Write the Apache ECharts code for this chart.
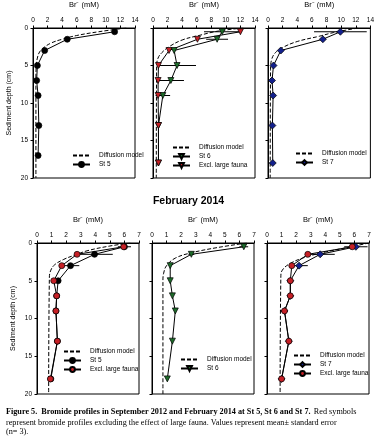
<!DOCTYPE html>
<html>
<head>
<meta charset="utf-8">
<script src="https://cdn.jsdelivr.net/npm/echarts/dist/echarts.min.js"></script>
<style>
  html, body { margin: 0; padding: 0; background: #fff; }
  #chart { width: 377px; height: 439px; }
</style>
</head>
<body>
<div id="chart"></div>
<script>
// sampling depths (cm)
const depths = [0.5, 1.5, 3, 5, 7, 9, 13, 18];
const depthsSepSt5 = [0.5, 1.5, 3, 5, 7, 9, 13, 17];

// September 2012, Br- (mM)
const sepSt5 = [11.2, 4.7, 1.6, 0.6, 0.5, 0.7, 0.8, 0.7];
const sepSt6 = [9.5, 8.8, 2.9, 3.3, 2.45, 1.35, 0.75, 0.75];
const sepSt6Err = [2.5, 1.5, 0, 2.6, 1.8, 1.0, 0, 0];
const sepSt6Excl = [12.0, 6.1, 2.2, 0.75, 0.7, 0.7, 0.75, 0.75];
const sepSt7 = [9.9, 7.5, 1.75, 0.75, 0.55, 0.7, 0.6, 0.65];
const sepSt7Err = [3.6, 0, 0, 0, 0, 0, 0, 0];

// February 2014, Br- (mM)
const febSt5 = [6.0, 3.95, 2.3, 1.45, 1.35, 1.3, 1.4, 0.95];
const febSt5Err = [0.45, 1.25, 0.6, 0, 0, 0, 0, 0];
const febSt5Excl = [5.95, 2.75, 1.7, 1.15, 1.35, 1.3, 1.4, 0.92];
const febSt6 = [6.3, 2.7, 1.25, 1.25, 1.4, 1.6, 1.4, 1.05];
const febSt6Err = [0.3, 0.2, 0, 0, 0, 0, 0, 0];
const febSt7 = [6.1, 3.65, 2.2, 1.6, 1.6, 1.2, 1.5, 1.0];
const febSt7Err = [0.8, 1.0, 0.6, 0, 0, 0, 0, 0];
const febSt7Excl = [5.85, 2.8, 1.7, 1.6, 1.6, 1.2, 1.5, 1.0];

// diffusion model curves (Br-, depth)
const diffSt5SepX = [12.8, 9, 6, 4, 2.5, 1.5, 0.9, 0.6, 0.45, 0.4, 0.4];
const diffSt5SepZ = [0, 0.5, 1, 1.5, 2, 2.6, 3.2, 4, 5, 7, 20];
const diffSt6SepX = [12.4, 9, 6.3, 4, 2.2, 1.2, 0.7, 0.5, 0.45];
const diffSt6SepZ = [0, 0.4, 1, 1.6, 2.5, 3.3, 4, 5, 20];
const diffSt7SepX = [12.3, 9, 7, 4, 2, 1, 0.5, 0.35, 0.3];
const diffSt7SepZ = [0, 0.6, 1.1, 1.8, 2.6, 3.3, 4.2, 5.5, 20];
const diffSt5FebX = [6.4, 5, 3.5, 2.6, 1.8, 1.2, 0.95, 0.85, 0.8];
const diffSt5FebZ = [0, 0.4, 1.0, 1.6, 2.2, 2.9, 3.6, 4.5, 20];
const diffSt6FebX = [6.5, 4.5, 2.7, 1.6, 1.0, 0.8, 0.75, 0.75];
const diffSt6FebZ = [0, 0.6, 1.3, 2.0, 3.0, 4, 5, 20];
const diffSt7FebX = [7, 5.5, 4, 2.6, 1.6, 1.05, 0.95, 0.9];
const diffSt7FebZ = [0, 0.6, 1.2, 1.9, 2.7, 3.6, 4.5, 20];

const FONT = 'Liberation Sans, Arial, sans-serif';

const RED = '#c62026', GREEN = '#1d6b2a', BLUE = '#13208c', BLACK = '#000';

const pair = (xs, zs) => xs.map((x, i) => [x, zs[i]]);

const grids = [
  { left: 33, top: 27, width: 102, height: 151 },
  { left: 153, top: 27, width: 102, height: 151 },
  { left: 268, top: 27, width: 104, height: 151 },
  { left: 37, top: 243, width: 102, height: 151 },
  { left: 152, top: 243, width: 102, height: 151 },
  { left: 267, top: 243, width: 102, height: 151 }
].map(g => Object.assign({ show: true, borderColor: '#000', borderWidth: 1, containLabel: false }, g));

const xAxes = grids.map((g, i) => ({
  type: 'value', gridIndex: i, position: 'top',
  min: 0, max: i < 3 ? 14 : 7, interval: i < 3 ? 2 : 1,
  name: 'Br\u207B (mM)', nameLocation: 'middle', nameGap: 19,
  nameTextStyle: { fontFamily: FONT, fontSize: 7.5, color: '#000' },
  axisLine: { show: true, lineStyle: { color: '#000', width: 1 } },
  axisTick: { show: true, inside: false, length: 2.5, lineStyle: { color: '#000' } },
  axisLabel: { fontFamily: FONT, fontSize: 6.5, color: '#000', margin: 4 },
  splitLine: { show: false }
}));

const yAxes = grids.map((g, i) => ({
  type: 'value', gridIndex: i, inverse: true,
  min: 0, max: 20, interval: 5,
  name: (i === 0 || i === 3) ? 'Sediment depth (cm)' : '',
  nameLocation: 'middle', nameGap: 20, nameRotate: 90,
  nameTextStyle: { fontFamily: FONT, fontSize: 7, color: '#000' },
  axisLine: { show: true, lineStyle: { color: '#000', width: 1 } },
  axisTick: { show: true, length: 2.5, lineStyle: { color: '#000' } },
  axisLabel: { show: i === 0 || i === 3, fontFamily: FONT, fontSize: 6.5, color: '#000', margin: 5 },
  splitLine: { show: false }
}));

function diffSeries(name, gi, xs, zs) {
  return {
    name: name, type: 'line', xAxisIndex: gi, yAxisIndex: gi,
    data: pair(xs, zs), smooth: 0.4, symbol: 'none',
    itemStyle: { color: '#000', opacity: 0 },
    lineStyle: { color: '#000', width: 1, type: [4, 2] }, z: 2
  };
}

function dataSeries(name, gi, xs, zs, color, symbol, rotate) {
  return {
    name: name, type: 'line', xAxisIndex: gi, yAxisIndex: gi,
    data: pair(xs, zs), symbol: symbol, symbolSize: symbol === 'diamond' ? 7 : 6,
    symbolRotate: rotate || 0,
    itemStyle: { color: color, borderColor: '#000', borderWidth: 0.7 },
    lineStyle: { color: '#000', width: 1 }, z: 4
  };
}

function errSeries(gi, xs, zs, errs) {
  const d = [];
  xs.forEach((x, i) => { if (errs[i] > 0) d.push([x, zs[i], errs[i]]); });
  return {
    type: 'custom', xAxisIndex: gi, yAxisIndex: gi, z: 3,
    data: d, encode: { x: 0, y: 1 },
    renderItem: function (params, api) {
      const x = api.value(0), z = api.value(1), e = api.value(2);
      const p1 = api.coord([Math.max(0, x - e), z]);
      const p2 = api.coord([x + e, z]);
      return { type: 'line', shape: { x1: p1[0], y1: p1[1], x2: p2[0], y2: p2[1] },
        style: { stroke: '#000', lineWidth: 1 } };
    }
  };
}

const series = [
  diffSeries('Diffusion model#1', 0, diffSt5SepX, diffSt5SepZ),
  dataSeries('St 5#1', 0, sepSt5, depthsSepSt5, BLACK, 'circle'),

  diffSeries('Diffusion model#2', 1, diffSt6SepX, diffSt6SepZ),
  errSeries(1, sepSt6, depths, sepSt6Err),
  dataSeries('St 6#2', 1, sepSt6, depths, GREEN, 'triangle', 180),
  dataSeries('Excl. large fauna#2', 1, sepSt6Excl, depths, RED, 'triangle', 180),

  diffSeries('Diffusion model#3', 2, diffSt7SepX, diffSt7SepZ),
  errSeries(2, sepSt7, depths, sepSt7Err),
  dataSeries('St 7#3', 2, sepSt7, depths, BLUE, 'diamond'),

  diffSeries('Diffusion model#4', 3, diffSt5FebX, diffSt5FebZ),
  errSeries(3, febSt5, depths, febSt5Err),
  dataSeries('St 5#4', 3, febSt5, depths, BLACK, 'circle'),
  dataSeries('Excl. large fauna#4', 3, febSt5Excl, depths, RED, 'circle'),

  diffSeries('Diffusion model#5', 4, diffSt6FebX, diffSt6FebZ),
  errSeries(4, febSt6, depths, febSt6Err),
  dataSeries('St 6#5', 4, febSt6, depths, GREEN, 'triangle', 180),

  diffSeries('Diffusion model#6', 5, diffSt7FebX, diffSt7FebZ),
  errSeries(5, febSt7, depths, febSt7Err),
  dataSeries('St 7#6', 5, febSt7, depths, BLUE, 'diamond'),
  dataSeries('Excl. large fauna#6', 5, febSt7Excl, depths, RED, 'circle')
];

function legendAt(left, top, names) {
  return {
    orient: 'vertical', left: left, top: top, itemGap: 2,
    itemWidth: 17, itemHeight: 6, padding: 0, selectedMode: false,
    data: names,
    formatter: n => n.split('#')[0],
    textStyle: { fontFamily: FONT, fontSize: 6.5, color: '#000', padding: [0, 0, 0, 4] }
  };
}

const option = {
  animation: false,
  backgroundColor: '#fff',
  grid: grids,
  xAxis: xAxes,
  yAxis: yAxes,
  legend: [
    legendAt(72, 152, ['Diffusion model#1', 'St 5#1']),
    legendAt(172, 144, ['Diffusion model#2', 'St 6#2', 'Excl. large fauna#2']),
    legendAt(295, 150, ['Diffusion model#3', 'St 7#3']),
    legendAt(63, 348, ['Diffusion model#4', 'St 5#4', 'Excl. large fauna#4']),
    legendAt(180, 356, ['Diffusion model#5', 'St 6#5']),
    legendAt(293, 352, ['Diffusion model#6', 'St 7#6', 'Excl. large fauna#6'])
  ],
  graphic: [
    {
      type: 'text', left: 'center', top: 196,
      style: { text: 'February 2014', font: 'bold 10.5px ' + FONT, fill: '#000' }
    },
    {
      type: 'text', left: 6, top: 406,
      style: {
        text: '{b|Figure 5.  Bromide profiles in September 2012 and February 2014 at St 5, St 6 and St 7.} {n|Red symbols}\n' +
              '{n|represent bromide profiles excluding the effect of large fauna. Values represent mean\u00B1 standard error}\n' +
              '{n|(n= 3).}',
        rich: {
          b: { fontFamily: 'Liberation Serif, serif', fontWeight: 'bold', fontSize: 8.2, lineHeight: 9, fill: '#000' },
          n: { fontFamily: 'Liberation Serif, serif', fontSize: 8.2, lineHeight: 9, fill: '#000' }
        }
      }
    }
  ],
  series: series
};

const chart = echarts.init(document.getElementById('chart'), null, { renderer: 'canvas' });
chart.setOption(option);
</script>
</body>
</html>
